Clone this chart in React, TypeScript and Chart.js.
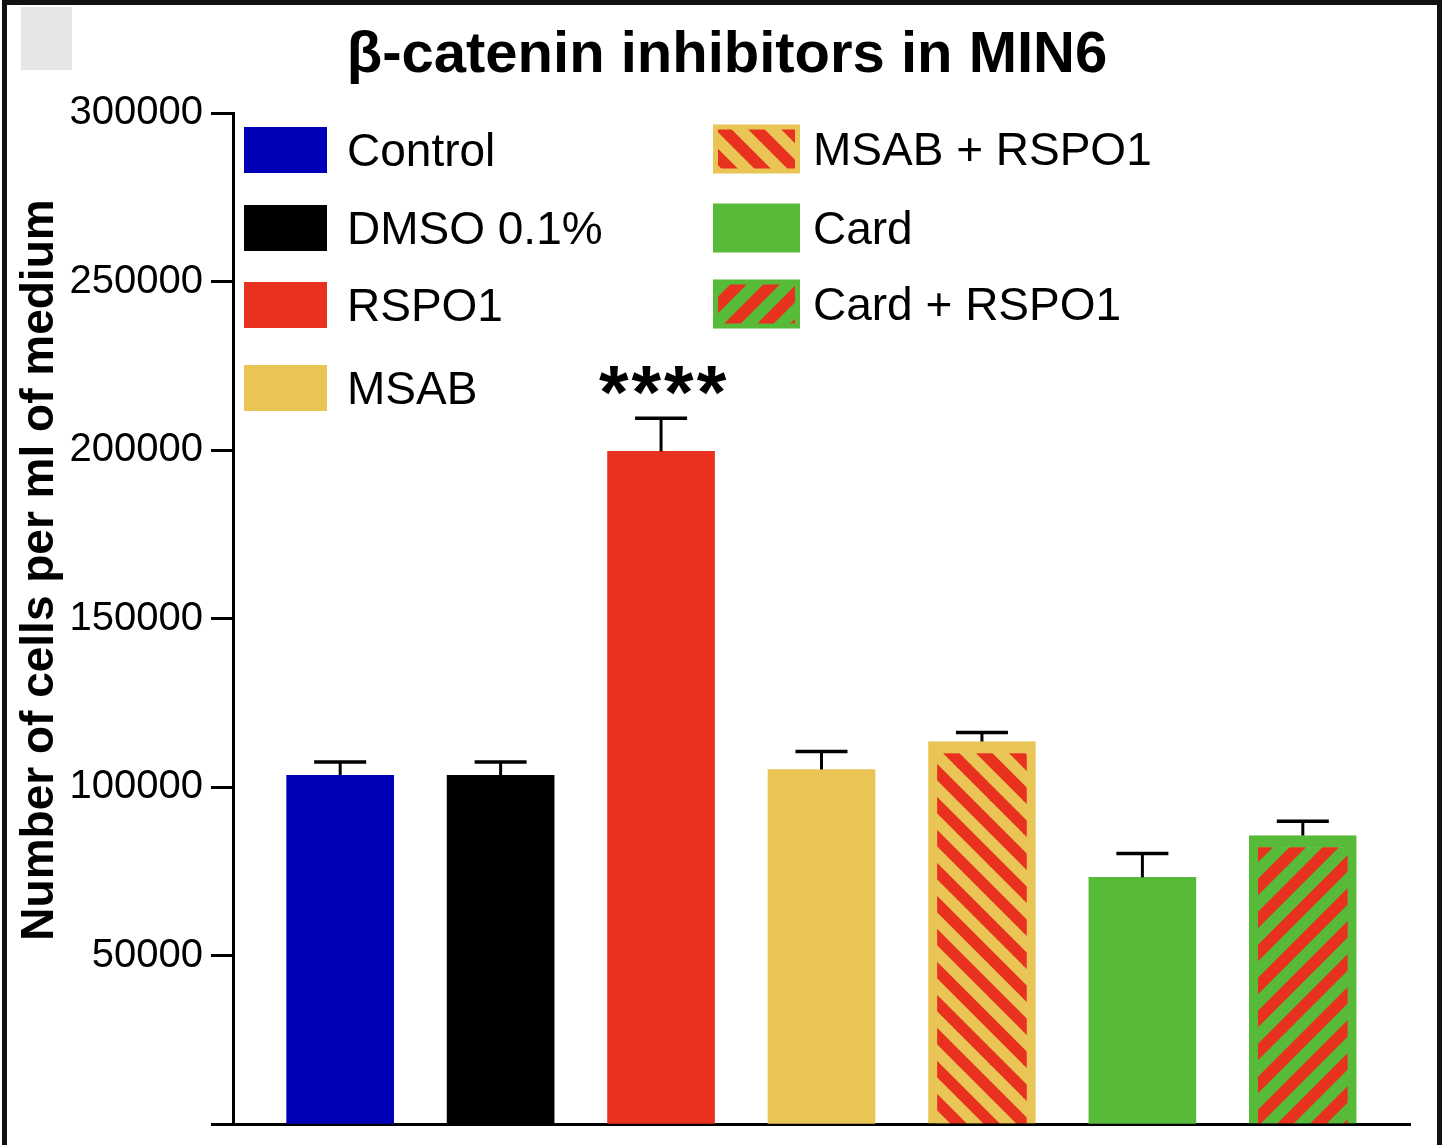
import React, { useEffect, useRef } from "react";
import { Chart, registerables } from "chart.js";

Chart.register(...registerables);

// data
const categories = ["Control", "DMSO 0.1%", "RSPO1", "MSAB", "MSAB + RSPO1", "Card", "Card + RSPO1"];
const means = [103500, 103500, 199600, 105200, 113500, 73200, 85600];
const errors = [3900, 3900, 9800, 5300, 2700, 7100, 4200];
const significance = ["", "", "****", "", "", "", ""];
const yTicks = [0, 50000, 100000, 150000, 200000, 250000, 300000];

const titleText = "β-catenin inhibitors in MIN6";
const yTitleText = "Number of cells per ml of medium";

const BLUE = "#0000b8";
const BLACK = "#000000";
const RED = "#e8321f";
const YELLOW = "#e9c556";
const GREEN = "#57ba38";

const FONT = '"Liberation Sans", Arial, Helvetica, sans-serif';

// stripe tile, dir 1 = "\" , dir -1 = "/"
function makeStripes(bg: string, fg: string, dir: number): CanvasPattern | string {
  const p = 33;
  const tile = document.createElement("canvas");
  tile.width = p;
  tile.height = p;
  const c = tile.getContext("2d");
  if (!c) return bg;
  c.fillStyle = bg;
  c.fillRect(0, 0, p, p);
  c.strokeStyle = fg;
  c.lineWidth = p / (2 * Math.SQRT2);
  for (let k = -2; k <= 2; k++) {
    c.beginPath();
    if (dir > 0) {
      c.moveTo(k * p - p, -p);
      c.lineTo(k * p + 2 * p, 2 * p);
    } else {
      c.moveTo(k * p - p, 2 * p);
      c.lineTo(k * p + 2 * p, -p);
    }
    c.stroke();
  }
  return c.createPattern(tile, "repeat") || bg;
}

const errorBars = {
  id: "errorBars",
  afterDatasetsDraw(chart: any) {
    const { ctx, scales } = chart;
    const meta = chart.getDatasetMeta(0);
    ctx.save();
    ctx.strokeStyle = "#000";
    meta.data.forEach((bar: any, i: number) => {
      const yTop = scales.y.getPixelForValue(means[i] + errors[i]);
      const yBar = scales.y.getPixelForValue(means[i]);
      ctx.lineWidth = 3;
      ctx.beginPath();
      ctx.moveTo(bar.x, yBar);
      ctx.lineTo(bar.x, yTop);
      ctx.stroke();
      ctx.lineWidth = 3.5;
      ctx.beginPath();
      ctx.moveTo(bar.x - 26, yTop);
      ctx.lineTo(bar.x + 26, yTop);
      ctx.stroke();
      if (significance[i]) {
        ctx.fillStyle = "#000";
        ctx.font = `bold 76px ${FONT}`;
        ctx.textAlign = "center";
        ctx.textBaseline = "alphabetic";
        (ctx as any).letterSpacing = "3px";
        ctx.fillText(significance[i], bar.x + 3, yTop);
        (ctx as any).letterSpacing = "0px";
      }
    });
    ctx.restore();
  },
};

const titleAndLegend = {
  id: "titleAndLegend",
  afterDraw(chart: any) {
    const { ctx } = chart;
    const ds = chart.data.datasets[0];
    ctx.save();
    ctx.fillStyle = "#000";
    ctx.font = `bold 58px ${FONT}`;
    ctx.textAlign = "center";
    ctx.textBaseline = "alphabetic";
    ctx.fillText(titleText, 727, 72);

    // y axis title
    ctx.save();
    ctx.translate(40, 570);
    ctx.rotate(-Math.PI / 2);
    ctx.font = `bold 46px ${FONT}`;
    ctx.textBaseline = "middle";
    ctx.fillText(yTitleText, 0, 0);
    ctx.restore();

    const leftRows = [150, 228, 305, 388];
    const rightRows = [149, 228, 304];
    categories.forEach((label, i) => {
      const left = i < 4;
      const cy = left ? leftRows[i] : rightRows[i - 4];
      const bx = left ? 244 : 713;
      const bw = left ? 83 : 87;
      const bh = left ? 46 : 49;
      const by = cy - bh / 2;
      const striped = typeof ds.backgroundColor[i] !== "string";
      const inset = striped ? 5 : 0;
      if (inset) {
        ctx.fillStyle = ds.borderColor[i];
        ctx.fillRect(bx, by, bw, bh);
      }
      ctx.fillStyle = ds.backgroundColor[i];
      ctx.fillRect(bx + inset, by + inset, bw - 2 * inset, bh - 2 * inset);
      ctx.fillStyle = "#000";
      ctx.font = `46px ${FONT}`;
      ctx.textAlign = "left";
      ctx.textBaseline = "middle";
      ctx.fillText(label, bx + bw + (left ? 20 : 13), cy + 3);
    });
    ctx.restore();
  },
};

const App = () => {
  const canvasRef = useRef<HTMLCanvasElement | null>(null);

  useEffect(() => {
    if (!canvasRef.current) return;
    const ctx = canvasRef.current.getContext("2d");
    if (!ctx) return;

    const fills = [
      BLUE,
      BLACK,
      RED,
      YELLOW,
      makeStripes(YELLOW, RED, 1),
      GREEN,
      makeStripes(GREEN, RED, -1),
    ];
    const edgeColors = [BLUE, BLACK, RED, YELLOW, YELLOW, GREEN, GREEN];
    const inset = { top: 12, left: 9, right: 9, bottom: 0 };
    const edgeWidths = [0, 0, 0, 0, inset, 0, inset];

    const chart = new Chart(ctx, {
      type: "bar",
      data: {
        labels: categories,
        datasets: [
          {
            label: "cells",
            data: means.map((v, i) => ({ x: i, y: v })) as any,
            backgroundColor: fills as any,
            borderColor: edgeColors,
            borderWidth: edgeWidths as any,
            borderSkipped: false,
            barThickness: 107,
          },
        ],
      },
      options: {
        responsive: false,
        animation: false,
        events: [],
        layout: { padding: { top: 113, right: 38, bottom: 21, left: 0 } },
        plugins: {
          legend: { display: false },
          tooltip: { enabled: false },
          title: { display: false },
        },
        scales: {
          x: {
            type: "linear",
            offset: false,
            min: -0.668,
            max: 6.668,
            grid: { display: false, drawTicks: false, offset: false },
            ticks: { display: false },
            border: { display: true, color: "#000", width: 3 },
          },
          y: {
            min: 0,
            max: 300000,
            afterBuildTicks: (scale: any) => {
              scale.ticks = yTicks.map((v) => ({ value: v }));
            },
            afterFit: (scale: any) => {
              scale.width = 233;
              scale.paddingTop = 0;
              scale.paddingBottom = 0;
            },
            grid: {
              display: true,
              drawOnChartArea: false,
              drawTicks: true,
              tickLength: 22,
              tickWidth: 3,
              color: "#000",
            },
            border: { display: true, color: "#000", width: 3 },
            ticks: {
              color: "#000",
              padding: 8,
              font: { family: FONT, size: 40 },
              callback: (v: any) => (v === 0 ? "" : String(v)),
            },
          },
        },
      },
      plugins: [errorBars, titleAndLegend],
    });

    return () => {
      chart.destroy();
    };
  }, []);

  return (
    <div style={{ position: "absolute", left: 0, top: 0, width: 1448, height: 1145, background: "#fff", overflow: "hidden" }}>
      <canvas ref={canvasRef} width={1448} height={1145} style={{ width: 1448, height: 1145, display: "block" }} />
      <div
        style={{
          position: "absolute",
          left: 2,
          top: 0,
          width: 1440,
          height: 1170,
          border: "5px solid #111",
          boxSizing: "border-box",
          pointerEvents: "none",
        }}
      />
      <div style={{ position: "absolute", left: 21, top: 7, width: 51, height: 63, background: "#e6e6e6" }} />
    </div>
  );
};

export default App;
